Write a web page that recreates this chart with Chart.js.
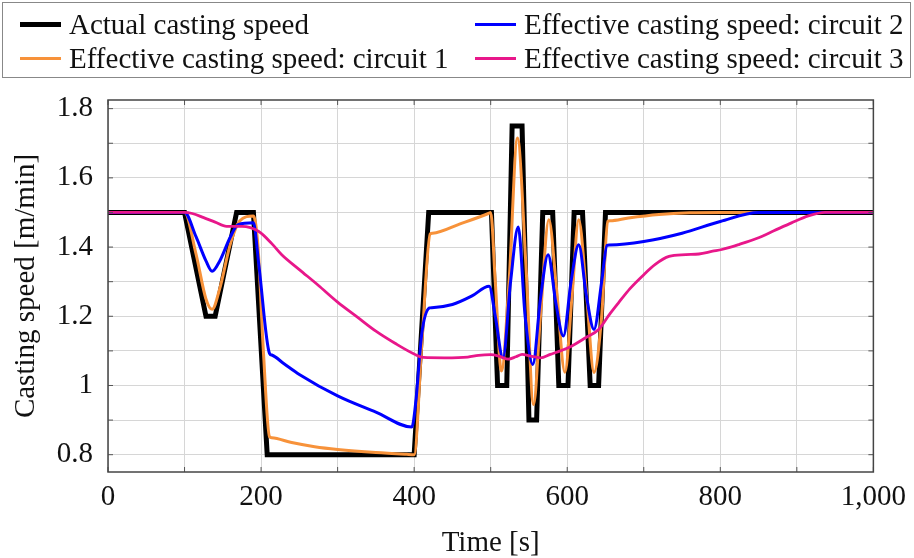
<!DOCTYPE html>
<html>
<head>
<meta charset="utf-8">
<script src="https://cdn.jsdelivr.net/npm/chart.js@4.4.0/dist/chart.umd.min.js"></script>
<style>
  body { margin: 0; background: #fff; }
  #wrap { position: relative; width: 914px; height: 558px; font-family: "Liberation Serif", serif; }
  #legendBox { position: absolute; left: 2px; top: 2px; width: 907px; height: 74px; border: 1.5px solid #888; }
  .item { position: absolute; display: flex; align-items: center; height: 34px; font-size: 29px; color: #111; white-space: nowrap; }
  .sw { display: inline-block; width: 41px; margin-right: 8px; }
  canvas { position: absolute; left: 0; top: 0; }
</style>
</head>
<body>
<div id="wrap">
  <canvas id="myChart" width="914" height="558"></canvas>
  <div id="legendBox"></div>
  <div class="item" style="left:20px;top:7px"><span class="sw" style="background:#000;height:5px"></span>Actual casting speed</div>
  <div class="item" style="left:20px;top:41px"><span class="sw" style="background:#f7923a;height:3px"></span>Effective casting speed: circuit 1</div>
  <div class="item" style="left:475px;top:7px"><span class="sw" style="background:#0000ff;height:3px"></span>Effective casting speed: circuit 2</div>
  <div class="item" style="left:475px;top:41px"><span class="sw" style="background:#e8178a;height:3px"></span>Effective casting speed: circuit 3</div>
</div>
<script>
// actual casting speed [m/min] over time [s]
var actualT = [0,100,128,140,168,190,208,400,419,501,509,521,528,541,550,560,568,581,589,601,609,620,630,641,650,1000];
var actualV = [1.5,1.5,1.2,1.2,1.5,1.5,0.8,0.8,1.5,1.5,1.0,1.0,1.75,1.75,0.9,0.9,1.5,1.5,1.0,1.0,1.5,1.5,1.0,1.0,1.5,1.5];

// circuit 1
var c1T = [0,100,115,128,136,146,160,172,190,196,203,211,214,240,270,300,350,390,400,410,421,424,460,497,500,506,514,524,535,546,556,565,576,586,597,606,615,625,635,645,653,656,680,720,760,800,1000];
var c1V = [1.5,1.5,1.38,1.25,1.22,1.28,1.41,1.475,1.49,1.4,1.1,0.852,0.849,0.835,0.823,0.815,0.806,0.801,0.8,1.12,1.438,1.44,1.467,1.497,1.5,1.3,1.042,1.3,1.715,1.35,0.945,1.2,1.479,1.28,1.038,1.25,1.479,1.27,1.038,1.2,1.474,1.476,1.484,1.494,1.499,1.5,1.5];

// circuit 2
var c2T = [0,100,115,128,136,146,160,170,190,197,211,214,230,250,300,350,397,402,410,420,423,450,475,498,506,516,526,536,545,555,565,575,585,595,605,615,625,635,645,652,655,700,750,800,850,1000];
var c2V = [1.5,1.5,1.43,1.36,1.33,1.36,1.43,1.465,1.47,1.35,1.093,1.088,1.063,1.032,0.97,0.923,0.88,0.95,1.15,1.224,1.225,1.234,1.258,1.287,1.2,1.08,1.3,1.458,1.2,1.061,1.25,1.378,1.24,1.143,1.3,1.407,1.26,1.162,1.3,1.405,1.406,1.416,1.44,1.474,1.5,1.5];

// circuit 3
var c3T = [0,100,110,125,140,155,175,197,214,227,250,275,300,325,350,375,400,412,440,470,484,500,512,523,533,541,552,565,578,591,605,624,641,655,667,682,698,715,733,755,772,790,802,825,850,870,893,915,937,1000];
var c3V = [1.5,1.5,1.497,1.485,1.472,1.46,1.46,1.445,1.41,1.378,1.335,1.289,1.241,1.199,1.157,1.122,1.091,1.081,1.08,1.082,1.087,1.089,1.084,1.076,1.083,1.09,1.085,1.08,1.09,1.1,1.113,1.138,1.162,1.205,1.239,1.28,1.316,1.35,1.373,1.378,1.38,1.388,1.393,1.408,1.427,1.447,1.47,1.49,1.5,1.5];

var xGrid = [0,100,200,300,400,500,600,700,800,900,1000];
var xLabels = [0,200,400,600,800,1000];
var yGrid = [0.8,0.9,1.0,1.1,1.2,1.3,1.4,1.5,1.6,1.7,1.8];
var yLabels = [0.8,1.0,1.2,1.4,1.6,1.8];

function pts(t, v) {
  return t.map(function (x, i) { return {x: x, y: v[i]}; });
}

var frame = {
  id: 'frame',
  afterDraw: function (chart) {
    var a = chart.chartArea, ctx = chart.ctx;
    var xs = chart.scales.x, ys = chart.scales.y;
    ctx.save();
    ctx.strokeStyle = '#555';
    ctx.lineWidth = 1;
    ctx.beginPath();
    xGrid.forEach(function (v) {
      var px = xs.getPixelForValue(v);
      ctx.moveTo(px, a.bottom); ctx.lineTo(px, a.bottom - 5);
      ctx.moveTo(px, a.top); ctx.lineTo(px, a.top + 5);
    });
    yGrid.forEach(function (v) {
      var py = ys.getPixelForValue(v);
      ctx.moveTo(a.left, py); ctx.lineTo(a.left + 5, py);
      ctx.moveTo(a.right, py); ctx.lineTo(a.right - 5, py);
    });
    ctx.stroke();
    ctx.lineWidth = 1.5;
    ctx.strokeStyle = '#444';
    ctx.strokeRect(a.left, a.top, a.right - a.left, a.bottom - a.top);
    ctx.restore();
  }
};

var tickFont = {family: 'Liberation Serif', size: 29, lineHeight: 1.2};
var titleFont = {family: 'Liberation Serif', size: 29, lineHeight: 1};

var ctx = document.getElementById('myChart').getContext('2d');
var myChart = new Chart(ctx, {
  type: 'line',
  data: {
    datasets: [
      {label: 'Effective casting speed: circuit 3', data: pts(c3T, c3V), borderColor: '#e8178a', borderWidth: 2.8, order: 1, cubicInterpolationMode: 'monotone'},
      {label: 'Effective casting speed: circuit 2', data: pts(c2T, c2V), borderColor: '#0000ff', borderWidth: 3, order: 2, cubicInterpolationMode: 'monotone'},
      {label: 'Effective casting speed: circuit 1', data: pts(c1T, c1V), borderColor: '#f7923a', borderWidth: 3, order: 3, cubicInterpolationMode: 'monotone'},
      {label: 'Actual casting speed', data: pts(actualT, actualV), borderColor: '#000', borderWidth: 5, order: 4, borderJoinStyle: 'miter'}
    ]
  },
  options: {
    responsive: false,
    animation: false,
    elements: { point: { radius: 0 }, line: { fill: false } },
    layout: { padding: {top: 100, right: 37, bottom: 0, left: 0} },
    plugins: { legend: { display: false }, tooltip: { enabled: false } },
    scales: {
      x: {
        type: 'linear',
        min: 0,
        max: 1000,
        afterFit: function (s) { s.height = 86; },
        afterBuildTicks: function (s) { s.ticks = xGrid.map(function (v) { return {value: v}; }); },
        grid: { color: '#d6d6d6', lineWidth: 1, drawTicks: false },
        border: { display: false },
        ticks: {
          font: tickFont, color: '#111', padding: 8, maxRotation: 0, autoSkip: false,
          callback: function (v) { return xLabels.indexOf(v) >= 0 ? (v === 1000 ? '1,000' : String(v)) : ''; }
        },
        title: { display: true, text: 'Time [s]', font: titleFont, color: '#111', padding: {top: 0, bottom: 0} }
      },
      y: {
        min: 0.75,
        max: 1.825,
        afterFit: function (s) { s.width = 108; },
        afterBuildTicks: function (s) { s.ticks = yGrid.map(function (v) { return {value: v}; }); },
        grid: { color: '#d6d6d6', lineWidth: 1, drawTicks: false },
        border: { display: false },
        ticks: {
          font: tickFont, color: '#111', padding: 15, autoSkip: false,
          callback: function (v) {
            var k = Math.round(v * 10);
            return yLabels.some(function (l) { return Math.round(l * 10) === k; }) ? String(k / 10) : '';
          }
        },
        title: { display: true, text: 'Casting speed [m/min]', font: titleFont, color: '#111', padding: {top: 12, bottom: 0} }
      }
    }
  },
  plugins: [frame]
});
</script>
</body>
</html>
